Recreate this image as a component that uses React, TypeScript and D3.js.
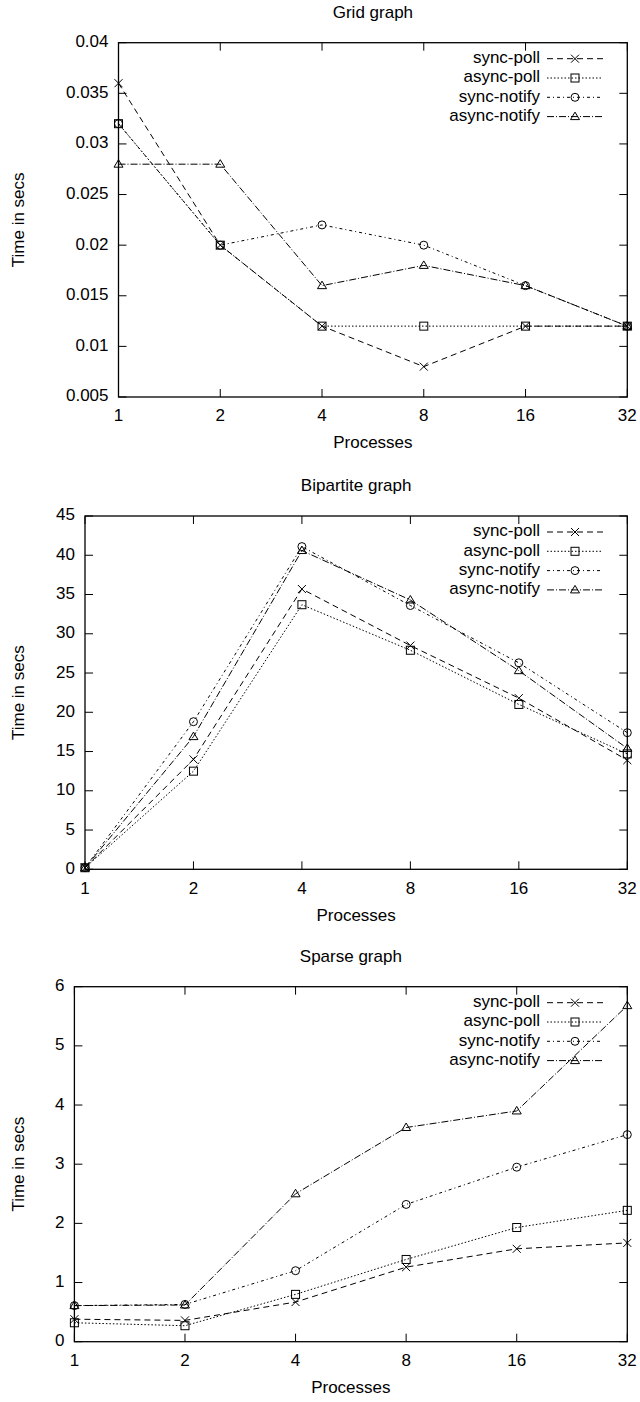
import * as d3 from 'd3';

const processes = [1, 2, 4, 8, 16, 32];
const seriesNames = ['sync-poll', 'async-poll', 'sync-notify', 'async-notify'];

// Grid graph
const gridSyncPoll = [0.036, 0.02, 0.012, 0.008, 0.012, 0.012];
const gridAsyncPoll = [0.032, 0.02, 0.012, 0.012, 0.012, 0.012];
const gridSyncNotify = [0.032, 0.02, 0.022, 0.02, 0.016, 0.012];
const gridAsyncNotify = [0.028, 0.028, 0.016, 0.018, 0.016, 0.012];
const gridTicks = [0.005, 0.01, 0.015, 0.02, 0.025, 0.03, 0.035, 0.04];

// Bipartite graph
const bipSyncPoll = [0.2, 14, 35.7, 28.5, 21.8, 13.9];
const bipAsyncPoll = [0.2, 12.5, 33.7, 27.9, 21.0, 14.7];
const bipSyncNotify = [0.2, 18.8, 41.1, 33.6, 26.3, 17.4];
const bipAsyncNotify = [0.2, 16.9, 40.6, 34.3, 25.3, 15.4];
const bipTicks = [0, 5, 10, 15, 20, 25, 30, 35, 40, 45];

// Sparse graph
const sparseSyncPoll = [0.38, 0.36, 0.67, 1.26, 1.57, 1.67];
const sparseAsyncPoll = [0.32, 0.27, 0.8, 1.39, 1.93, 2.22];
const sparseSyncNotify = [0.61, 0.63, 1.2, 2.32, 2.95, 3.5];
const sparseAsyncNotify = [0.61, 0.62, 2.5, 3.62, 3.9, 5.68];
const sparseTicks = [0, 1, 2, 3, 4, 5, 6];

const FONT = '"Liberation Sans", Arial, Helvetica, sans-serif';
const dashes = ['6,4', '1.5,2', '3,3,1,3', '7,2,1,2'];
const markers = ['x', 'square', 'circle', 'triangle'];

type Panel = {
  title: string;
  series: number[][];
  ticks: number[];
  fmt: (v: number) => string;
  left: number;
  top: number;
  bottom: number;
};

const panels: Panel[] = [
  {
    title: 'Grid graph',
    series: [gridSyncPoll, gridAsyncPoll, gridSyncNotify, gridAsyncNotify],
    ticks: gridTicks,
    fmt: v => String(+v.toFixed(3)),
    left: 118.5, top: 42.7, bottom: 397,
  },
  {
    title: 'Bipartite graph',
    series: [bipSyncPoll, bipAsyncPoll, bipSyncNotify, bipAsyncNotify],
    ticks: bipTicks,
    fmt: v => String(v),
    left: 85, top: 516, bottom: 869.3,
  },
  {
    title: 'Sparse graph',
    series: [sparseSyncPoll, sparseAsyncPoll, sparseSyncNotify, sparseAsyncNotify],
    ticks: sparseTicks,
    fmt: v => String(v),
    left: 74.4, top: 986.7, bottom: 1341.7,
  },
];

const RIGHT = 627.3;
const TICK = 8;

const Marker = ({ type, x, y }: { type: string; x: number; y: number }) => {
  const s = 4;
  const common = { fill: 'none', stroke: '#000', strokeWidth: 1 };
  if (type === 'x') {
    return <path d={`M${x - s},${y - s}L${x + s},${y + s}M${x - s},${y + s}L${x + s},${y - s}`} {...common} />;
  }
  if (type === 'square') {
    return <rect x={x - s} y={y - s} width={2 * s} height={2 * s} {...common} />;
  }
  if (type === 'circle') {
    return <circle cx={x} cy={y} r={s} {...common} />;
  }
  return <path d={`M${x},${y - s - 0.5}L${x + s + 0.5},${y + s - 1}L${x - s - 0.5},${y + s - 1}Z`} {...common} />;
};

const Chart = ({ p }: { p: Panel }) => {
  const x = d3.scaleLog().base(2).domain([1, 32]).range([p.left, RIGHT]);
  const y = d3.scaleLinear()
    .domain([p.ticks[0], p.ticks[p.ticks.length - 1]])
    .range([p.bottom, p.top]);
  const line = d3.line<number>()
    .x((_, i) => x(processes[i]))
    .y(d => y(d));
  const midY = (p.top + p.bottom) / 2;
  const legendY = (i: number) => p.top + 16 + i * 19.3;

  return (
    <g fontFamily={FONT} fontSize={17} fill="#000">
      <text x={(p.left + RIGHT) / 2} y={p.top - 29} textAnchor="middle" dominantBaseline="middle">{p.title}</text>
      <text transform={`translate(20,${midY}) rotate(-90)`} textAnchor="middle" dominantBaseline="middle">Time in secs</text>
      <text x={(p.left + RIGHT) / 2} y={p.bottom + 47} textAnchor="middle" dominantBaseline="middle">Processes</text>

      {p.ticks.map(t => (
        <g key={`y${t}`}>
          <line x1={p.left} x2={p.left + TICK} y1={y(t)} y2={y(t)} stroke="#000" />
          <line x1={RIGHT} x2={RIGHT - TICK} y1={y(t)} y2={y(t)} stroke="#000" />
          <text x={p.left - 10} y={y(t)} textAnchor="end" dominantBaseline="middle">{p.fmt(t)}</text>
        </g>
      ))}
      {processes.map(v => (
        <g key={`x${v}`}>
          <line x1={x(v)} x2={x(v)} y1={p.bottom} y2={p.bottom - TICK} stroke="#000" />
          <line x1={x(v)} x2={x(v)} y1={p.top} y2={p.top + TICK} stroke="#000" />
          <text x={x(v)} y={p.bottom + 20} textAnchor="middle" dominantBaseline="middle">{v}</text>
        </g>
      ))}

      {p.series.map((s, i) => (
        <g key={seriesNames[i]}>
          <path d={line(s) ?? ''} fill="none" stroke="#000" strokeWidth={1} strokeDasharray={dashes[i]} />
          {s.map((v, j) => (
            <Marker key={j} type={markers[i]} x={x(processes[j])} y={y(v)} />
          ))}
        </g>
      ))}

      {seriesNames.map((name, i) => (
        <g key={`leg${name}`}>
          <text x={540} y={legendY(i)} textAnchor="end" dominantBaseline="middle">{name}</text>
          <line x1={547} x2={603} y1={legendY(i)} y2={legendY(i)} stroke="#000" strokeDasharray={dashes[i]} />
          <Marker type={markers[i]} x={575} y={legendY(i)} />
        </g>
      ))}

      <rect x={p.left} y={p.top} width={RIGHT - p.left} height={p.bottom - p.top} fill="none" stroke="#000" strokeWidth={1.3} />
    </g>
  );
};

export default function App() {
  return (
    <div style={{ position: 'absolute', left: 0, top: 0, background: '#fff' }}>
      <svg width={640} height={1402} viewBox="0 0 640 1402" style={{ display: 'block' }}>
        <rect width={640} height={1402} fill="#fff" />
        {panels.map(p => <Chart key={p.title} p={p} />)}
      </svg>
    </div>
  );
}
